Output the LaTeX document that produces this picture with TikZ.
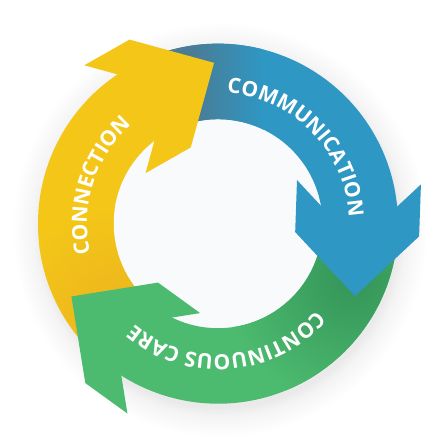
\documentclass[tikz,border=0pt]{standalone}
\usepackage{fontspec}
\setmainfont{Open Sans}
\usetikzlibrary{decorations.text}
\definecolor{yellowband}{RGB}{243,198,24}
\definecolor{yellowshade}{RGB}{236,180,30}
\definecolor{blueband}{RGB}{46,151,196}
\definecolor{blueshade}{RGB}{74,124,150}
\definecolor{greenband}{RGB}{76,187,111}
\definecolor{greenshade}{RGB}{52,148,88}
\definecolor{innerfill}{RGB}{249,250,251}
\definecolor{glowA}{RGB}{234,234,234}
\definecolor{glowB}{RGB}{244,244,244}
\pgfdeclareradialshading{ringglow}{\pgfpoint{0bp}{0bp}}{color(0bp)=(glowA); color(21bp)=(glowA); color(22bp)=(glowB); color(24.5bp)=(white); color(50bp)=(white)}
\newcommand{\labelfont}{\bfseries\fontsize{21}{21}\selectfont}
\tikzstyle{band label}=[decorate,decoration={text along path,text align=center,text color=white}]

\begin{document}
\begin{tikzpicture}[x=1pt,y=1pt]
    \useasboundingbox (-218,-218.3) rectangle (224,223.7);
    % soft glow round the ring
    \shade[shading=ringglow] (2,-6) circle[radius=212];
    \fill[innerfill] (0,0) circle[radius=106];

    % bands (tails run under the previous head)
    \fill[yellowband] (226:180) arc[start angle=226,end angle=114,radius=180]
        -- (114:104.5) arc[start angle=114,end angle=226,radius=104.5] -- cycle;
    \fill[blueband] (114:180) arc[start angle=114,end angle=-4.3,radius=180]
        -- (-4.3:104.5) arc[start angle=-4.3,end angle=114,radius=104.5] -- cycle;
    \fill[greenband] (-6:180) arc[start angle=-6,end angle=-131.4,radius=180]
        -- (-131.4:104.5) arc[start angle=-131.4,end angle=-6,radius=104.5] -- cycle;

    % shadows cast by the heads
    \begin{scope}
        \clip (114:180) arc[start angle=114,end angle=-4.3,radius=180]
            -- (-4.3:104.5) arc[start angle=-4.3,end angle=114,radius=104.5] -- cycle;
        \fill[blueshade] (-100,40) rectangle (-25,190);
        \shade[left color=blueshade,right color=blueband] (-25,40) rectangle (45,190);
    \end{scope}
    \begin{scope}
        \clip (-6:180) arc[start angle=-6,end angle=-131.4,radius=180]
            -- (-131.4:104.5) arc[start angle=-131.4,end angle=-6,radius=104.5] -- cycle;
        \shade[inner color=greenshade,outer color=greenband] (135,-55) circle[radius=130];
    \end{scope}
    \begin{scope}
        \clip (226:180) arc[start angle=226,end angle=114,radius=180]
            -- (114:104.5) arc[start angle=114,end angle=226,radius=104.5] -- cycle;
        \shade[inner color=yellowshade,outer color=yellowband] (-100,-95) circle[radius=110];
    \end{scope}

    % heads
    \fill[yellowband,shift={(-57.85,130.2)},rotate=29.6]
        (-20,30) -- (-52,62) -- (0,62) -- (62,0) -- (0,-62) -- (-52,-62) -- (-20,-30) -- cycle;
    \fill[blueband,shift={(139.15,-10.5)},rotate=-92]
        (-20,30) -- (-52,62) -- (0,62) -- (62,0) -- (0,-62) -- (-52,-62) -- (-20,-30) -- cycle;
    \fill[greenband,shift={(-96.35,-109.1)},rotate=144.1]
        (-20,30) -- (-52,62) -- (0,62) -- (62,0) -- (0,-62) -- (-52,-62) -- (-20,-30) -- cycle;

    % labels
    \path[band label,decoration={text={|\labelfont|CONNECTION}}]
        (222:131) arc[start angle=222,end angle=102,radius=131];
    \path[band label,decoration={text={|\labelfont|COMMUNICATION}}]
        (104.5:131) arc[start angle=104.5,end angle=-15.5,radius=131];
    \path[band label,decoration={text={|\labelfont|CONTINUOUS CARE}}]
        (-25.5:131) arc[start angle=-25.5,end angle=-145.5,radius=131];
\end{tikzpicture}
\end{document}
